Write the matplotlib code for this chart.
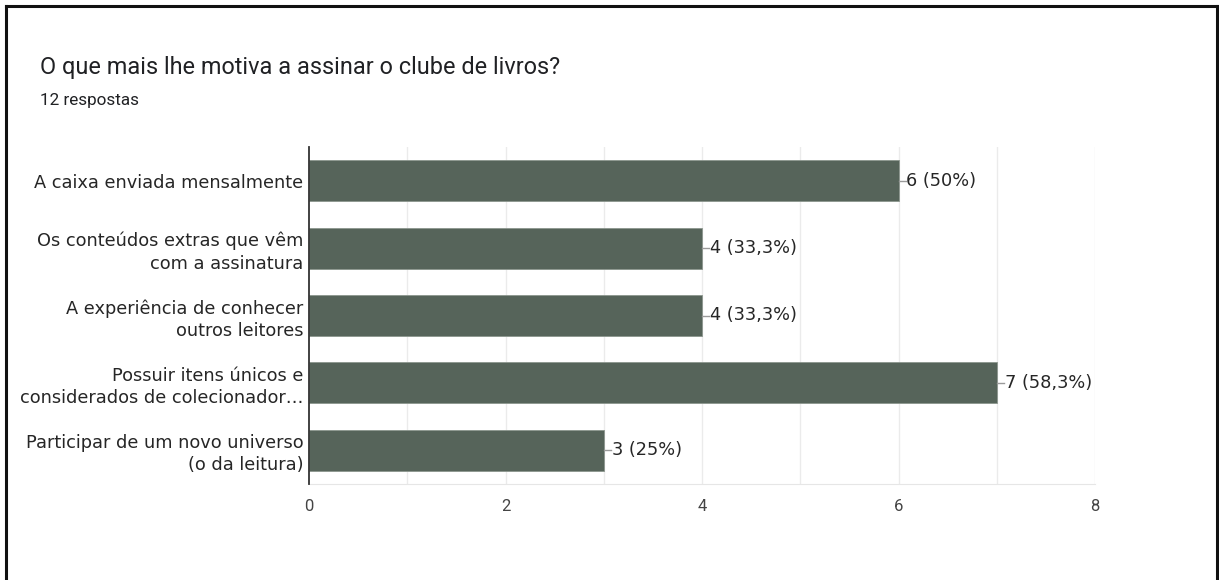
import numpy as np
import matplotlib.pyplot as plt

categorias = [
    "A caixa enviada mensalmente",
    "Os conteúdos extras que vêm\ncom a assinatura",
    "A experiência de conhecer\noutros leitores",
    "Possuir itens únicos e\nconsiderados de colecionador…",
    "Participar de um novo universo\n(o da leitura)",
]
contagens = [6, 4, 4, 7, 3]
rotulos = ["6 (50%)", "4 (33,3%)", "4 (33,3%)", "7 (58,3%)", "3 (25%)"]
ticks_x = [0, 2, 4, 6, 8]

W, H = 1219, 580
fig = plt.figure(figsize=(W / 100, H / 100), dpi=100)
fig.patch.set_facecolor("white")

# moldura preta (sem borda inferior)
moldura = dict(color="#111111", lw=2.2, transform=fig.transFigure)
fig.add_artist(plt.Line2D([5.5 / W, 5.5 / W], [0, 1 - 6 / H], **moldura))
fig.add_artist(plt.Line2D([5.5 / W, 1216.5 / W], [1 - 6 / H, 1 - 6 / H], **moldura))
fig.add_artist(plt.Line2D([1216.5 / W, 1216.5 / W], [0, 1 - 6 / H], **moldura))

fig.text(40 / W, 1 - 74 / H, "O que mais lhe motiva a assinar o clube de livros?",
         family="Roboto", fontsize=16.9, color="#202124", va="baseline")
fig.text(40 / W, 1 - 105 / H, "12 respostas", family="Roboto", fontsize=12.3,
         color="#202124", va="baseline")

ax = fig.add_axes([309 / W, 1 - 484 / H, (1095 - 309) / W, (484 - 147) / H])
y = np.arange(len(categorias))
ax.barh(y, contagens, height=0.61, color="#56645a", edgecolor="#8c968e", linewidth=0.6, zorder=3)
ax.set_ylim(len(categorias) - 0.5, -0.5)
ax.set_xlim(0, 8)

for xv in range(1, 9):
    ax.axvline(xv, color="#ebebeb", lw=1, zorder=1)
for s in ["top", "right"]:
    ax.spines[s].set_visible(False)
ax.spines["bottom"].set_color("#e6e6e6")
ax.spines["left"].set_color("#333333")
ax.spines["left"].set_linewidth(1.3)
ax.spines["left"].set_zorder(4)

fonte = ["DejaVu Sans"]
ax.set_yticks(y)
ax.set_yticklabels(categorias, family=fonte, fontsize=12.8,
                   color="#262626", linespacing=1.3)
ax.tick_params(axis="y", length=0, pad=4)
ax.set_xticks(ticks_x)
ax.set_xticklabels([str(t) for t in ticks_x], family="Roboto", fontsize=12, color="#444444")
ax.tick_params(axis="x", length=0, pad=11)

# rótulos de valor com linha guia
for yi, v, r in zip(y, contagens, rotulos):
    ax.plot([v, v + 0.075], [yi, yi], color="#9a9a9a", lw=1, zorder=3, clip_on=False)
    ax.text(v + 0.08, yi, r, family=fonte, fontsize=12.8,
            color="#262626", va="center", ha="left")

fig.savefig("out.png", dpi=100)
